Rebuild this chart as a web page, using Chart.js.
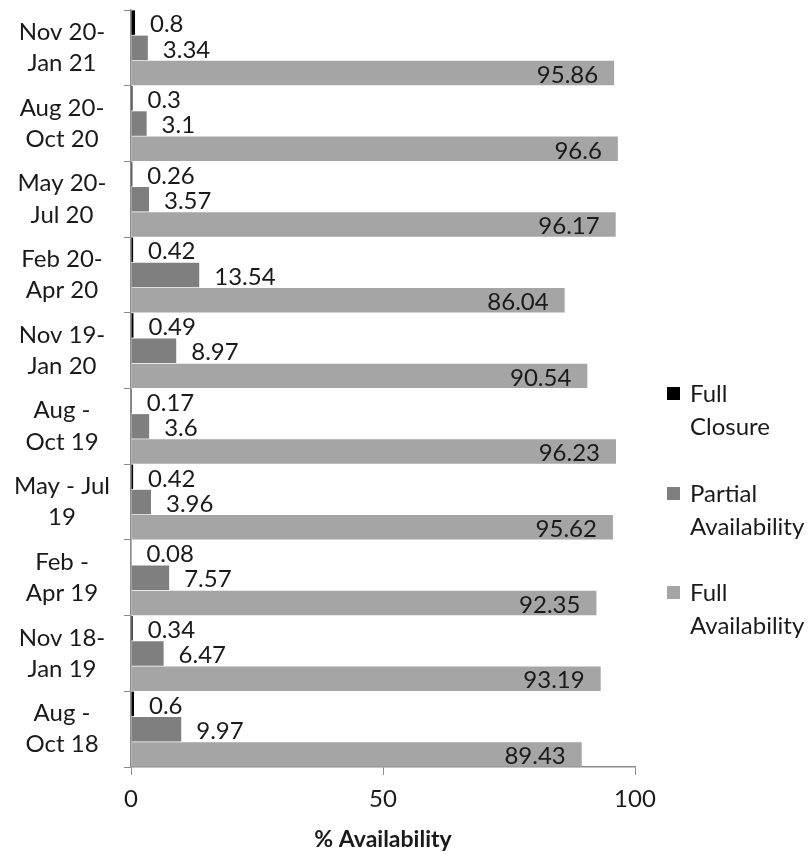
<!DOCTYPE html>
<html>
<head>
<meta charset="utf-8">
<script src="https://cdn.jsdelivr.net/npm/chart.js@4/dist/chart.umd.min.js"></script>
<style>
  body { margin: 0; background: #fff; }
  #wrap { width: 808px; height: 857px; position: relative; }
</style>
</head>
<body>
<div id="wrap"><canvas id="availability_chart"></canvas></div>
<script>
//--------------------------------------------------------------------------------
//--- Input data
//--------------------------------------------------------------------------------

var periods = [
    ['Nov 20-', 'Jan 21'], ['Aug 20-', 'Oct 20'], ['May 20-', 'Jul 20'], ['Feb 20-', 'Apr 20'],
    ['Nov 19-', 'Jan 20'], ['Aug -', 'Oct 19'], ['May - Jul', '19'], ['Feb -', 'Apr 19'],
    ['Nov 18-', 'Jan 19'], ['Aug -', 'Oct 18']];

var full_closure = [0.8, 0.3, 0.26, 0.42, 0.49, 0.17, 0.42, 0.08, 0.34, 0.6];
var partial_availability = [3.34, 3.1, 3.57, 13.54, 8.97, 3.6, 3.96, 7.57, 6.47, 9.97];
var full_availability = [95.86, 96.6, 96.17, 86.04, 90.54, 96.23, 95.62, 92.35, 93.19, 89.43];

var series_names = [['Full', 'Closure'], ['Partial', 'Availability'], ['Full', 'Availability']];
var series_colors = ['#000000', '#7f7f7f', '#a5a5a5'];

var FONT = 'Lato, "Liberation Sans", sans-serif';
var FSIZE = 24;

//----------------------------------------
//--- Value labels and legend
//----------------------------------------

var value_labels = {
    id: 'value_labels',
    afterDatasetsDraw: function(chart) {
        var ctx = chart.ctx;
        ctx.save();
        ctx.font = FSIZE + 'px ' + FONT;
        ctx.fillStyle = '#1a1a1a';
        ctx.textBaseline = 'middle';
        chart.data.datasets.forEach(function(ds, di) {
            chart.getDatasetMeta(di).data.forEach(function(bar, i) {
                var v = ds.data[i];
                if (di === 2) {
                    ctx.textAlign = 'right';
                    ctx.fillText(String(v), bar.x - 16, bar.y + 2);
                } else {
                    ctx.textAlign = 'left';
                    ctx.fillText(String(v), bar.x + 15, bar.y + 2);
                }
            });
        });
        ctx.restore();
    }
};

var side_legend = {
    id: 'side_legend',
    afterDraw: function(chart) {
        var ctx = chart.ctx;
        ctx.save();
        ctx.font = FSIZE + 'px ' + FONT;
        ctx.textBaseline = 'middle';
        ctx.textAlign = 'left';
        var tops = [393, 493, 592];
        series_names.forEach(function(lines, k) {
            ctx.fillStyle = series_colors[k];
            ctx.fillRect(667, tops[k] - 6, 13, 13);
            ctx.fillStyle = '#1a1a1a';
            lines.forEach(function(t, j) {
                ctx.fillText(t, 690, tops[k] + 1 + j * 33);
            });
        });
        ctx.restore();
    }
};

//----------------------------------------
//--- Horizontal bar chart
//----------------------------------------

var availability_chart = new Chart(document.getElementById('availability_chart').getContext('2d'), {
    type: 'bar',
    data: {
        labels: periods,
        datasets: [
            {label: 'Full Closure', data: full_closure, backgroundColor: series_colors[0]},
            {label: 'Partial Availability', data: partial_availability, backgroundColor: series_colors[1]},
            {label: 'Full Availability', data: full_availability, backgroundColor: series_colors[2]}
        ]
    },
    options: {
        indexAxis: 'y',
        responsive: true, maintainAspectRatio: false, animation: false,
        layout: {padding: {top: 10, right: 173, left: 0, bottom: 0}},
        datasets: {bar: {categoryPercentage: 1.0, barPercentage: 0.97}},
        scales: {
            x: {
                min: 0, max: 100,
                ticks: {stepSize: 50, color: '#1a1a1a', font: {family: FONT, size: FSIZE}, padding: 10},
                grid: {drawOnChartArea: false, tickLength: 8, color: '#8c8c8c'},
                border: {color: '#8c8c8c', width: 1.5},
                title: {display: true, text: '% Availability', color: '#1a1a1a',
                        font: {family: FONT, size: 23, weight: 'bold'}, padding: {top: 7}},
                afterFit: function(scale) { scale.height = 90; scale.paddingLeft = 0; scale.paddingRight = 0; }
            },
            y: {
                ticks: {color: '#1a1a1a', font: {family: FONT, size: FSIZE, lineHeight: 1.3},
                        crossAlign: 'center', padding: 14, autoSkip: false},
                grid: {drawOnChartArea: false, offset: true, tickLength: 7, color: '#8c8c8c'},
                border: {color: '#8c8c8c', width: 1.5},
                afterFit: function(scale) { scale.width = 131; scale.paddingTop = 0; scale.paddingBottom = 0; }
            }
        },
        plugins: {
            legend: {display: false},
            tooltip: {enabled: false}
        }
    },
    plugins: [value_labels, side_legend]
});
</script>
</body>
</html>
